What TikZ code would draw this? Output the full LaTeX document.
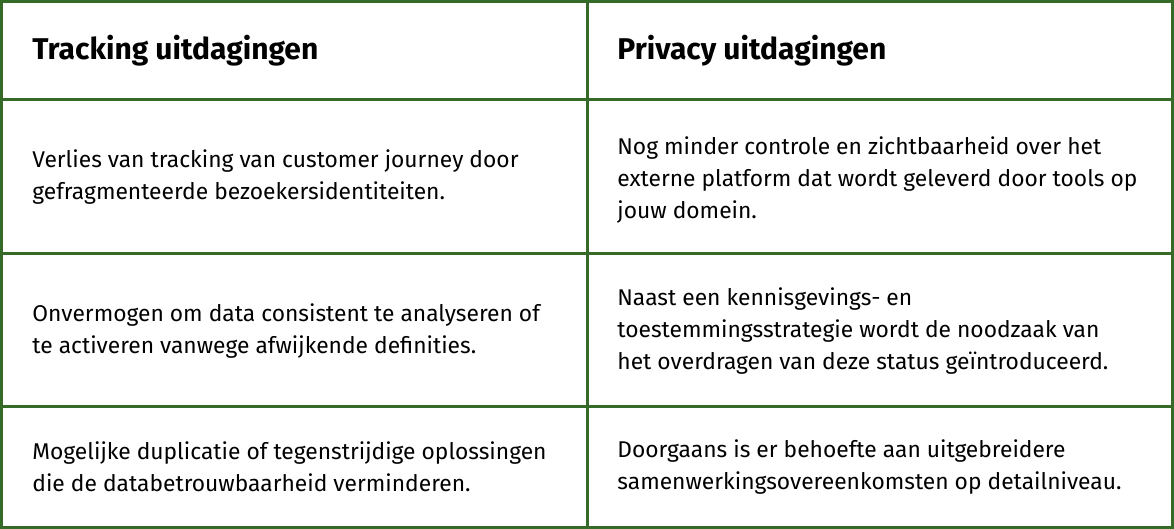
\documentclass[tikz,border=0pt]{standalone}
\usepackage{fontspec}
\setmainfont{Fira Sans}
\definecolor{gridgreen}{HTML}{356B26}
\begin{document}
\begin{tikzpicture}[x=0.5pt, y=-0.5pt,
    gridline/.style={line width=1.5pt, color=gridgreen},
    headcell/.style={anchor=west, inner sep=0pt, font=\fontsize{15}{17}\selectfont\bfseries},
    bodycell/.style={anchor=west, inner sep=0pt, align=left,
      font=\fontsize{11.4}{16}\selectfont}]
    \useasboundingbox (0,0) rectangle (1174,529);
    % grid
    \draw[gridline] (1.5,1.5) rectangle (1172.5,527.5);
    \foreach \y in {100,254,407}
        \draw[gridline] (1.5,\y) -- (1172.5,\y);
    \draw[gridline] (587,1.5) -- (587,527.5);
    % header
    \node[headcell] (headL) at (32,51) {Tracking uitdagingen};
    \node[headcell] (headR) at (617,51) {Privacy uitdagingen};
    % rows
    \node[bodycell] (rowAL) at (32,177) {Verlies van tracking van customer journey door\\ gefragmenteerde bezoekersidentiteiten.};
    \node[bodycell] (rowAR) at (617,180) {Nog minder controle en zichtbaarheid over het\\ externe platform dat wordt geleverd door tools op\\ jouw domein.};
    \node[bodycell] (rowBL) at (32,331) {Onvermogen om data consistent te analyseren of\\ te activeren vanwege afwijkende definities.};
    \node[bodycell] (rowBR) at (617,331) {Naast een kennisgevings- en\\ toestemmingsstrategie wordt de noodzaak van\\ het overdragen van deze status geïntroduceerd.};
    \node[bodycell] (rowCL) at (32,467) {Mogelijke duplicatie of tegenstrijdige oplossingen\\ die de databetrouwbaarheid verminderen.};
    \node[bodycell] (rowCR) at (617,467) {Doorgaans is er behoefte aan uitgebreidere\\ samenwerkingsovereenkomsten op detailniveau.};
\end{tikzpicture}
\end{document}
